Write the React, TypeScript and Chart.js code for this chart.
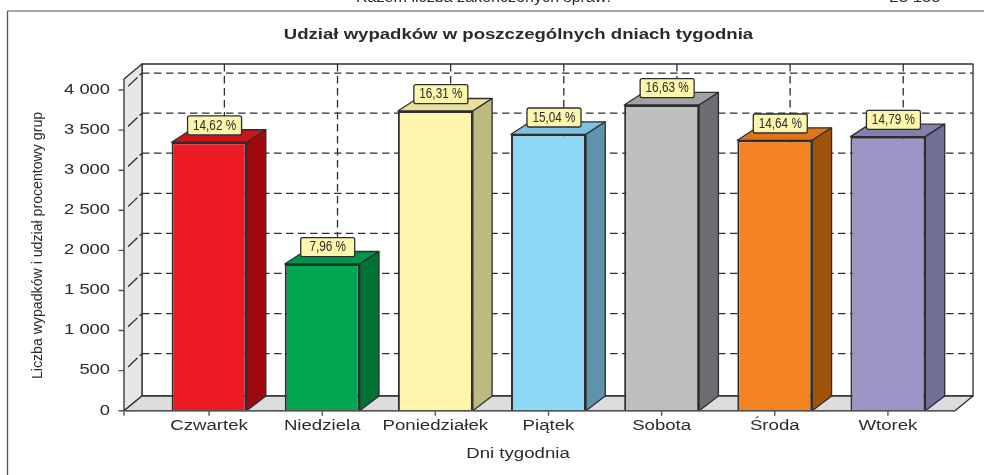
import React, { useEffect, useRef } from "react";
import { Chart, registerables } from "chart.js";

Chart.register(...registerables);

const days = ["Czwartek", "Niedziela", "Poniedziałek", "Piątek", "Sobota", "Środa", "Wtorek"];
const accidents = [3349, 1830, 3739, 3448, 3814, 3373, 3419];
const shares = ["14,62 %", "7,96 %", "16,31 %", "15,04 %", "16,63 %", "14,64 %", "14,79 %"];
const yTickValues = [0, 500, 1000, 1500, 2000, 2500, 3000, 3500, 4000];
const frontColors = ["#ED1C24", "#00A651", "#FFF5AC", "#8DD7F7", "#BCBEC0", "#F58220", "#9C95C6"];
const sideColors = ["#9E0A0F", "#007236", "#BDB981", "#5E93AB", "#6D6E71", "#A0530A", "#706F95"];
const topColors = ["#C8171D", "#00964A", "#E8E09B", "#7CC2E0", "#A0A2A5", "#DF7419", "#8480AD"];

const chartTitle = "Udział wypadków w poszczególnych dniach tygodnia";
const xTitle = "Dni tygodnia";
const yTitle = "Liczba wypadków i udział procentowy grup";
const headerLeft = "Razem liczba zakończonych spraw:";
const headerRight = "23 155";

const INK = "#2b2b2b";
const LINE = "#2e2e2e";
const SANS = '"Liberation Sans", Arial, sans-serif';

function text(
  ctx: CanvasRenderingContext2D,
  s: string,
  x: number,
  y: number,
  font: string,
  sx: number,
  sy = 1,
  rot = 0,
  align: CanvasTextAlign = "center",
) {
  ctx.save();
  ctx.translate(x, y);
  ctx.rotate(rot);
  ctx.scale(sx, sy);
  ctx.font = font;
  ctx.fillStyle = INK;
  ctx.textAlign = align;
  ctx.textBaseline = "middle";
  ctx.fillText(s, 0, 0);
  ctx.restore();
}

function poly(ctx: CanvasRenderingContext2D, pts: number[][], fill: string | null, stroke = LINE, lw = 1.3) {
  ctx.beginPath();
  pts.forEach((p, i) => (i ? ctx.lineTo(p[0], p[1]) : ctx.moveTo(p[0], p[1])));
  ctx.closePath();
  if (fill) {
    ctx.fillStyle = fill;
    ctx.fill();
  }
  ctx.lineWidth = lw;
  ctx.strokeStyle = stroke;
  ctx.lineJoin = "round";
  ctx.stroke();
}

const scene = {
  id: "scene",
  beforeDatasetsDraw(chart: any) {
    const { ctx, scales } = chart;
    const y = scales.y;
    const x = scales.x;
    const left = 124;
    const right = 955;
    const zero = y.getPixelForValue(0);
    const top = 79;
    const dx = 18;
    const dy = 14.7;
    const backTop = 64;
    ctx.save();

    // page frame and clipped header line
    ctx.strokeStyle = "#8a8a8a";
    ctx.lineWidth = 1.6;
    ctx.beginPath();
    ctx.moveTo(7, 11);
    ctx.lineTo(984, 11);
    ctx.stroke();
    ctx.strokeStyle = "#555555";
    ctx.lineWidth = 1.3;
    ctx.beginPath();
    ctx.moveTo(7.5, 11);
    ctx.lineTo(7.5, 475);
    ctx.stroke();
    text(ctx, headerLeft, 483.5, -2, `14px ${SANS}`, 1.15);
    text(ctx, headerRight, 915, -2, `14px ${SANS}`, 1.2);

    // walls and floor
    poly(ctx, [[left + dx, backTop], [right + dx, backTop], [right + dx, zero - dy], [left + dx, zero - dy]], "#ffffff");
    poly(ctx, [[left, top], [left + dx, backTop], [left + dx, zero - dy], [left, zero]], "#E6E7E8");
    poly(ctx, [[left, zero], [left + dx, zero - dy], [right + dx, zero - dy], [right, zero]], "#DCDDDE");

    // grid on the back wall and side wall
    ctx.strokeStyle = LINE;
    ctx.lineWidth = 1.3;
    ctx.setLineDash([7.5, 4.5]);
    y.ticks.forEach((t: any) => {
      if (t.value === 0) return;
      const py = y.getPixelForValue(t.value) - 17;
      ctx.beginPath();
      ctx.moveTo(left + dx, py);
      ctx.lineTo(right + dx, py);
      ctx.stroke();
    });
    days.forEach((_, i) => {
      const px = x.getPixelForValue(i) + 15.3;
      ctx.beginPath();
      ctx.moveTo(px, backTop);
      ctx.lineTo(px, zero - dy);
      ctx.stroke();
    });
    ctx.setLineDash([13, 3]);
    y.ticks.forEach((t: any) => {
      if (t.value === 0) return;
      const py = y.getPixelForValue(t.value);
      ctx.beginPath();
      ctx.moveTo(left + 4, py - 3.7);
      ctx.lineTo(left + dx, py - 17);
      ctx.stroke();
    });
    ctx.setLineDash([]);

    // bar depth
    const bars = chart.getDatasetMeta(0).data;
    bars.forEach((b: any, i: number) => {
      const l = b.x - b.width / 2;
      const r = b.x + b.width / 2;
      const bx = 19.3;
      poly(ctx, [[l, b.y], [l + bx, b.y - 12.5], [r + bx, b.y - 12.5], [r, b.y]], topColors[i]);
      poly(ctx, [[r, b.y], [r + bx, b.y - 12.5], [r + bx, zero - dy], [r, zero]], sideColors[i]);
    });
    ctx.restore();
  },
  afterDatasetsDraw(chart: any) {
    const { ctx, scales } = chart;
    const y = scales.y;
    const x = scales.x;
    const left = 124;
    const right = 955;
    const zero = y.getPixelForValue(0);
    ctx.save();

    // axis lines and tick marks
    ctx.strokeStyle = "#555555";
    ctx.lineWidth = 1.4;
    ctx.beginPath();
    ctx.moveTo(left, zero);
    ctx.lineTo(right, zero);
    y.ticks.forEach((t: any) => {
      const py = y.getPixelForValue(t.value);
      ctx.moveTo(left - 5.5, py);
      ctx.lineTo(left, py);
    });
    ctx.moveTo(left, zero);
    ctx.lineTo(left, zero + 5);
    days.forEach((_, i) => {
      const px = x.getPixelForValue(i);
      ctx.moveTo(px, zero);
      ctx.lineTo(px, zero + 5);
    });
    ctx.stroke();

    // tick labels from the scales
    y.ticks.forEach((t: any) => {
      text(ctx, t.label, 110, y.getPixelForValue(t.value), `14px ${SANS}`, 1.31, 1, 0, "right");
    });
    x.ticks.forEach((t: any) => {
      text(ctx, x.getLabelForValue(t.value), x.getPixelForValue(t.value), 426, `14px ${SANS}`, 1.33);
    });

    // titles
    text(ctx, chartTitle, 518.5, 35.5, `bold 14px ${SANS}`, 1.326);
    text(ctx, xTitle, 518, 454, `14px ${SANS}`, 1.33);
    text(ctx, yTitle, 38, 245.5, `14px ${SANS}`, 1.01, 1.1, -Math.PI / 2);

    // value labels
    chart.getDatasetMeta(0).data.forEach((b: any, i: number) => {
      const cx = b.x + 5.5;
      const by = b.y - 7.3;
      ctx.beginPath();
      ctx.roundRect(cx - 27, by - 19, 54, 19, 2);
      ctx.fillStyle = "#FFF6AE";
      ctx.fill();
      ctx.lineWidth = 1.3;
      ctx.strokeStyle = LINE;
      ctx.stroke();
      text(ctx, shares[i], cx, by - 9.3, `14px ${SANS}`, 0.84);
    });
    ctx.restore();
  },
};

export default function App() {
  const ref = useRef<HTMLCanvasElement>(null);
  useEffect(() => {
    document.body.style.margin = "0";
    const chart = new Chart(ref.current!, {
      type: "bar",
      data: {
        labels: days,
        datasets: [
          {
            data: accidents,
            backgroundColor: frontColors,
            borderColor: LINE,
            borderWidth: 2,
            barPercentage: 0.6625,
            categoryPercentage: 1,
          },
        ],
      },
      plugins: [scene],
      options: {
        responsive: false,
        animation: false,
        layout: { padding: { left: 152.5, right: 39.5, top: 79, bottom: 64.3 } },
        plugins: { legend: { display: false }, tooltip: { enabled: false } },
        scales: {
          x: {
            grid: { display: false, drawTicks: false },
            border: { display: false },
            ticks: { display: false },
          },
          y: {
            min: 0,
            max: 4138,
            afterBuildTicks: (axis: any) => {
              axis.ticks = yTickValues.map((value) => ({ value }));
            },
            grid: { display: false, drawTicks: false },
            border: { display: false },
            ticks: {
              display: false,
              callback: (v: any) => String(v).replace(/\B(?=(\d{3})+$)/g, " "),
            },
          },
        },
      },
    } as any);
    return () => chart.destroy();
  }, []);
  return <canvas ref={ref} width={984} height={475} style={{ display: "block" }} />;
}
